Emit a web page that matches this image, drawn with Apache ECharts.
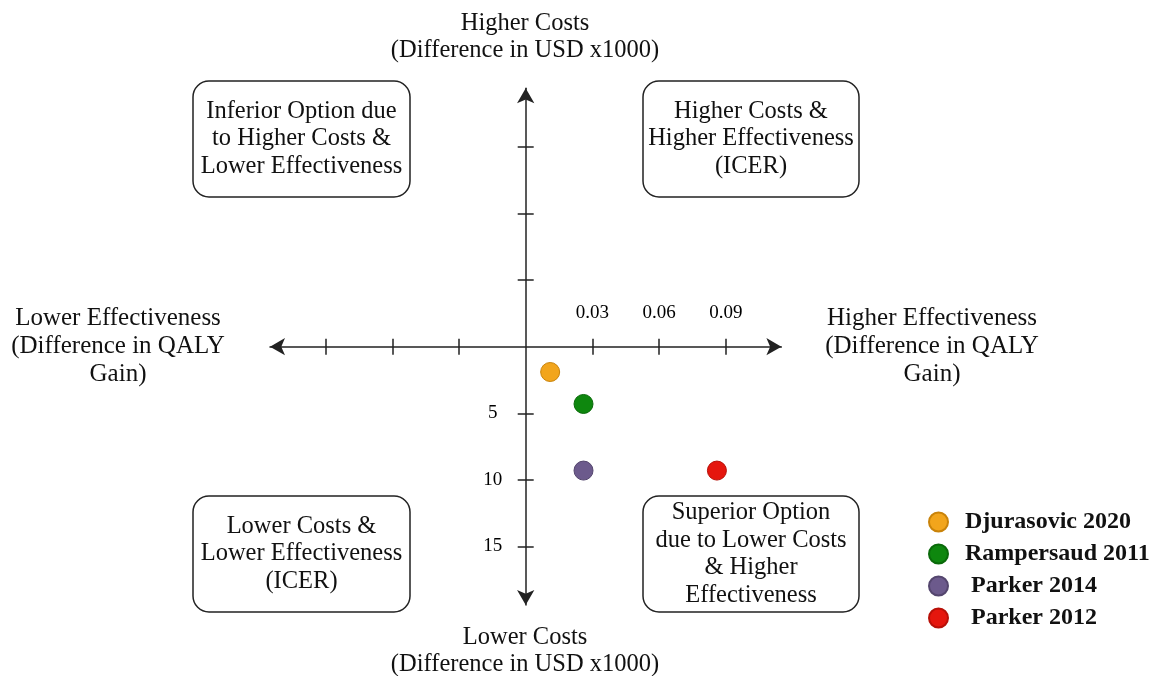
<!DOCTYPE html>
<html>
<head>
<meta charset="utf-8">
<script src="https://cdn.jsdelivr.net/npm/echarts@6/dist/echarts.min.js"></script>
<style>
html,body{margin:0;padding:0;background:#fff;}
#chart{width:1156px;height:676px;}
</style>
</head>
<body>
<div id="chart"></div>
<script>
// ---- data ----
const studies = ['Djurasovic 2020', 'Rampersaud 2011', 'Parker 2014', 'Parker 2012'];
const qalyDiff = [0.011, 0.026, 0.026, 0.086];      // difference in QALY gain
const costDiff = [-1.9, -4.3, -9.3, -9.3];          // difference in USD x1000 (negative = lower costs)
const colors = ['#F2A51C', '#0E870E', '#6C5A8C', '#E5160E'];
const borders = ['#C9830A', '#0A6A0A', '#54466E', '#B81008'];
const legendIndent = [false, false, true, true];
const xTicks = [-0.09, -0.06, -0.03, 0.03, 0.06, 0.09];
const xTickLabels = [0.03, 0.06, 0.09];
const yTicks = [-15, -10, -5, 5, 10, 15];
const yTickLabels = [-5, -10, -15];

const FONT = '"Liberation Serif", "Times New Roman", serif';
const INK = '#111';
const LINE = '#222';

const chart = echarts.init(document.getElementById('chart'), null, {renderer: 'canvas'});

function xAxisDef(pos, withArrows) {
  return {
    type: 'value', position: pos, min: -0.115, max: 0.115,
    splitLine: {show: false},
    axisLine: {
      show: true, onZero: true, onZeroAxisIndex: 0,
      symbol: withArrows ? ['arrow', 'arrow'] : ['none', 'none'],
      symbolSize: [13, 15],
      lineStyle: {color: withArrows ? LINE : 'rgba(0,0,0,0)', width: 1.5}
    },
    axisTick: {show: true, length: 8, customValues: xTicks, lineStyle: {color: LINE, width: 1.5}},
    axisLabel: {show: false}
  };
}
function yAxisDef(pos, withArrows) {
  return {
    type: 'value', position: pos, min: -19.4, max: 19.4,
    splitLine: {show: false},
    axisLine: {
      show: true, onZero: true, onZeroAxisIndex: 0,
      symbol: withArrows ? ['arrow', 'arrow'] : ['none', 'none'],
      symbolSize: [13, 15],
      lineStyle: {color: withArrows ? LINE : 'rgba(0,0,0,0)', width: 1.5}
    },
    axisTick: {show: true, length: 8, customValues: yTicks, lineStyle: {color: LINE, width: 1.5}},
    axisLabel: {show: false}
  };
}

function textEl(x, y, txt, size, lh) {
  return {
    type: 'text', x: x, y: y, z: 10,
    style: {
      text: txt, align: 'center', verticalAlign: 'middle',
      fontFamily: FONT, fontSize: size, lineHeight: lh, fill: INK
    }
  };
}
function boxEl(x, y, w, h, txt) {
  return {
    type: 'group', x: x, y: y, z: 10,
    children: [
      {type: 'rect', shape: {x: 0, y: 0, width: w, height: h, r: 16},
       style: {fill: '#fff', stroke: LINE, lineWidth: 1.5}},
      {type: 'text', x: w / 2, y: h / 2,
       style: {text: txt, align: 'center', verticalAlign: 'middle',
               fontFamily: FONT, fontSize: 24.5, lineHeight: 27.5, fill: INK}}
    ]
  };
}

const series = studies.map((name, i) => ({
  name: name, type: 'scatter', xAxisIndex: 0, yAxisIndex: 0,
  symbol: 'circle', symbolSize: 19, z: 5,
  itemStyle: {color: colors[i], borderColor: borders[i], borderWidth: 1, opacity: 1},
  data: [[qalyDiff[i], costDiff[i]]]
}));

// tick labels placed through the axes' scales, next to the crossing axes
series.push({
  name: 'xTickLabels', type: 'scatter', silent: true, z: 6,
  symbolSize: 2, itemStyle: {color: 'rgba(0,0,0,0)', borderWidth: 0, opacity: 1},
  data: xTickLabels.map(v => [v, 0]),
  label: {show: true, position: 'top', distance: 23,
          formatter: p => p.value[0].toFixed(2),
          fontFamily: FONT, fontSize: 19, color: '#000'}
});
series.push({
  name: 'yTickLabels', type: 'scatter', silent: true, z: 6,
  symbolSize: 2, itemStyle: {color: 'rgba(0,0,0,0)', borderWidth: 0, opacity: 1},
  data: yTickLabels.map(v => [0, v]),
  label: {show: true, position: 'left', distance: 32, align: 'center',
          formatter: p => String(Math.abs(p.value[1])),
          fontFamily: FONT, fontSize: 19, color: '#000'}
});

const option = {
  backgroundColor: '#fff',
  animation: false,
  grid: {left: 270, top: 88.3, width: 511.4, height: 516.8, containLabel: false},
  xAxis: [xAxisDef('bottom', true), xAxisDef('top', false)],
  yAxis: [yAxisDef('left', true), yAxisDef('right', false)],
  legend: {
    orient: 'vertical', left: 923, top: 505,
    icon: 'circle', itemWidth: 19, itemHeight: 19, itemGap: 8,
    data: studies,
    formatter: name => (legendIndent[studies.indexOf(name)] ? ' ' : '') + name,
    textStyle: {fontFamily: FONT, fontSize: 24, fontWeight: 'bold', color: INK,
                lineHeight: 24, padding: [0, 0, 0, 12]}
  },
  graphic: [
    textEl(525, 37.5, 'Higher Costs\n(Difference in USD x1000)', 24.5, 27),
    textEl(525, 651, 'Lower Costs\n(Difference in USD x1000)', 24.5, 27),
    textEl(118, 346, 'Lower Effectiveness\n(Difference in QALY\nGain)', 25, 28),
    textEl(932, 346, 'Higher Effectiveness\n(Difference in QALY\nGain)', 25, 28),
    boxEl(193, 81, 217, 116, 'Inferior Option due\nto Higher Costs &\nLower Effectiveness'),
    boxEl(643, 81, 216, 116, 'Higher Costs &\nHigher Effectiveness\n(ICER)'),
    boxEl(193, 496, 217, 116, 'Lower Costs &\nLower Effectiveness\n(ICER)'),
    boxEl(643, 496, 216, 116, 'Superior Option\ndue to Lower Costs\n& Higher\nEffectiveness')
  ],
  series: series
};
chart.setOption(option);
</script>
</body>
</html>
